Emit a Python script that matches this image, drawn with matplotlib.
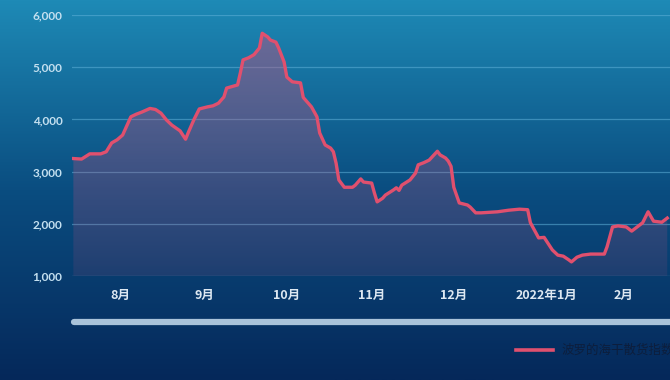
import numpy as np
import pandas as pd
import matplotlib
matplotlib.use("Agg")
import matplotlib.pyplot as plt
import matplotlib.dates as mdates
from matplotlib.lines import Line2D
from matplotlib.colors import LinearSegmentedColormap

plt.rcParams['font.family'] = ['Noto Sans CJK SC', 'DejaVu Sans']

# Baltic Dry Index
dates = ["2021-07-15", "2021-07-18", "2021-07-21", "2021-07-25", "2021-07-27", "2021-07-29",
         "2021-07-31", "2021-08-02", "2021-08-05", "2021-08-07", "2021-08-09", "2021-08-12",
         "2021-08-14", "2021-08-16", "2021-08-18", "2021-08-20", "2021-08-23", "2021-08-25",
         "2021-08-26", "2021-08-28", "2021-08-30", "2021-09-02", "2021-09-04", "2021-09-06",
         "2021-09-08", "2021-09-09", "2021-09-13", "2021-09-14", "2021-09-15", "2021-09-17",
         "2021-09-19", "2021-09-21", "2021-09-22", "2021-09-24", "2021-09-25", "2021-09-27",
         "2021-09-28", "2021-09-30", "2021-10-01", "2021-10-03", "2021-10-06", "2021-10-07",
         "2021-10-10", "2021-10-12", "2021-10-13", "2021-10-15", "2021-10-17", "2021-10-18",
         "2021-10-19", "2021-10-20", "2021-10-22", "2021-10-25", "2021-10-26", "2021-10-28",
         "2021-10-29", "2021-11-01", "2021-11-02", "2021-11-03", "2021-11-05", "2021-11-06",
         "2021-11-09", "2021-11-10", "2021-11-11", "2021-11-12", "2021-11-15", "2021-11-17",
         "2021-11-18", "2021-11-20", "2021-11-22", "2021-11-25", "2021-11-26", "2021-11-28",
         "2021-11-29", "2021-11-30", "2021-12-01", "2021-12-03", "2021-12-06", "2021-12-07",
         "2021-12-09", "2021-12-11", "2021-12-17", "2021-12-21", "2021-12-25", "2021-12-28",
         "2021-12-29", "2022-01-01", "2022-01-03", "2022-01-04", "2022-01-06", "2022-01-08",
         "2022-01-10", "2022-01-12", "2022-01-13", "2022-01-15", "2022-01-17", "2022-01-20",
         "2022-01-22", "2022-01-25", "2022-01-26", "2022-01-28", "2022-01-30", "2022-02-02",
         "2022-02-04", "2022-02-06", "2022-02-08", "2022-02-10", "2022-02-12", "2022-02-15",
         "2022-02-17"]
bdi = [3250, 3240, 3340, 3340, 3380, 3550,
       3610, 3700, 4050, 4100, 4140, 4210,
       4190, 4120, 3990, 3890, 3780, 3620,
       3750, 3990, 4200, 4240, 4260, 4310,
       4430, 4600, 4660, 4890, 5140, 5180,
       5240, 5370, 5650, 5580, 5520, 5480,
       5370, 5100, 4810, 4720, 4700, 4420,
       4240, 4050, 3740, 3510, 3450, 3380,
       3160, 2840, 2700, 2700, 2740, 2860,
       2800, 2780, 2590, 2420, 2490, 2550,
       2650, 2690, 2640, 2740, 2840, 2970,
       3130, 3170, 3220, 3390, 3320, 3260,
       3200, 3100, 2700, 2400, 2360, 2320,
       2210, 2210, 2230, 2260, 2280, 2270,
       2020, 1730, 1740, 1660, 1500, 1400,
       1380, 1310, 1270, 1360, 1400, 1420,
       1420, 1420, 1560, 1940, 1960, 1940,
       1860, 1940, 2020, 2230, 2050, 2030,
       2110]

tick_dates = ["2021-08-01", "2021-09-01", "2021-10-01", "2021-11-01", "2021-12-01", "2022-01-04", "2022-02-01"]
tick_labels = ["8月", "9月", "10月", "11月", "12月", "2022年1月", "2月"]
y_ticks = [1000, 2000, 3000, 4000, 5000, 6000]
legend_label = "波罗的海干散货指数"

x = pd.to_datetime(dates)
fig = plt.figure(figsize=(6.7, 3.8), dpi=100)

# background gradient over the whole figure
bg = fig.add_axes([0, 0, 1, 1], zorder=0)
bg_cmap = LinearSegmentedColormap.from_list("bg", ["#05285a", "#0a4d80", "#1e8ab6"])
bg.imshow(np.linspace(0, 1, 256).reshape(-1, 1), aspect="auto", cmap=bg_cmap,
          origin="lower", extent=[0, 1, 0, 1])
bg.axis("off")

ax = fig.add_axes([72/670, 1 - 276/380, 1 - 72/670, (276 - 15)/380], zorder=1)
ax.patch.set_alpha(0)
ax.set_ylim(1000, 6000)
x0 = pd.Timestamp("2021-07-14 12:00")
x1 = pd.Timestamp("2022-02-18")
ax.set_xlim(x0, x1)

for v in y_ticks:
    ax.axhline(v, color="#5fb0d8", lw=0.9, alpha=0.55, zorder=1)

# area under the line with a fading pink fill
xn = mdates.date2num(x)
poly = ax.fill_between(x, bdi, 1000, color="none", lw=0)
fill_cmap = LinearSegmentedColormap.from_list(
    "fill", [(0.78, 0.32, 0.5, 0.12), (0.78, 0.32, 0.5, 0.5)])
img = ax.imshow(np.linspace(0, 1, 256).reshape(-1, 1), aspect="auto", cmap=fill_cmap,
                origin="lower", extent=[mdates.date2num(x0), mdates.date2num(x1), 1000, 6000],
                zorder=2)
img.set_clip_path(poly.get_paths()[0], transform=ax.transData)
ax.set_xlim(x0, x1)
ax.set_ylim(1000, 6000)

ax.plot(x, bdi, color="#e0506e", lw=2.4, solid_joinstyle="round", zorder=3)

ax.set_yticks(y_ticks)
ax.set_yticklabels([f"{v:,}" for v in y_ticks], color="#c4e0f0", fontsize=8.5,
                   fontweight="bold", family=["Lato", "DejaVu Sans"])
ax.set_xticks(pd.to_datetime(tick_dates))
ax.set_xticklabels(tick_labels, color="#dde8f2", fontsize=9, fontweight="bold")
ax.tick_params(length=0, pad=7)
ax.tick_params(axis="x", pad=9)
for s in ax.spines.values():
    s.set_visible(False)

# scrollbar strip and legend
fig.add_artist(Line2D([74/670, 1.02], [1 - 322/380] * 2, color="#a9c3da", lw=4.5,
                      solid_capstyle="round", zorder=3))
fig.add_artist(Line2D([516/670, 553/670], [1 - 350/380] * 2, color="#e0506e", lw=2.6,
                      zorder=3))
fig.text(561/670, 1 - 350/380, legend_label, color="#0d1e3c", fontsize=9,
         va="center", ha="left", zorder=3)

fig.savefig("out.png", dpi=100)
